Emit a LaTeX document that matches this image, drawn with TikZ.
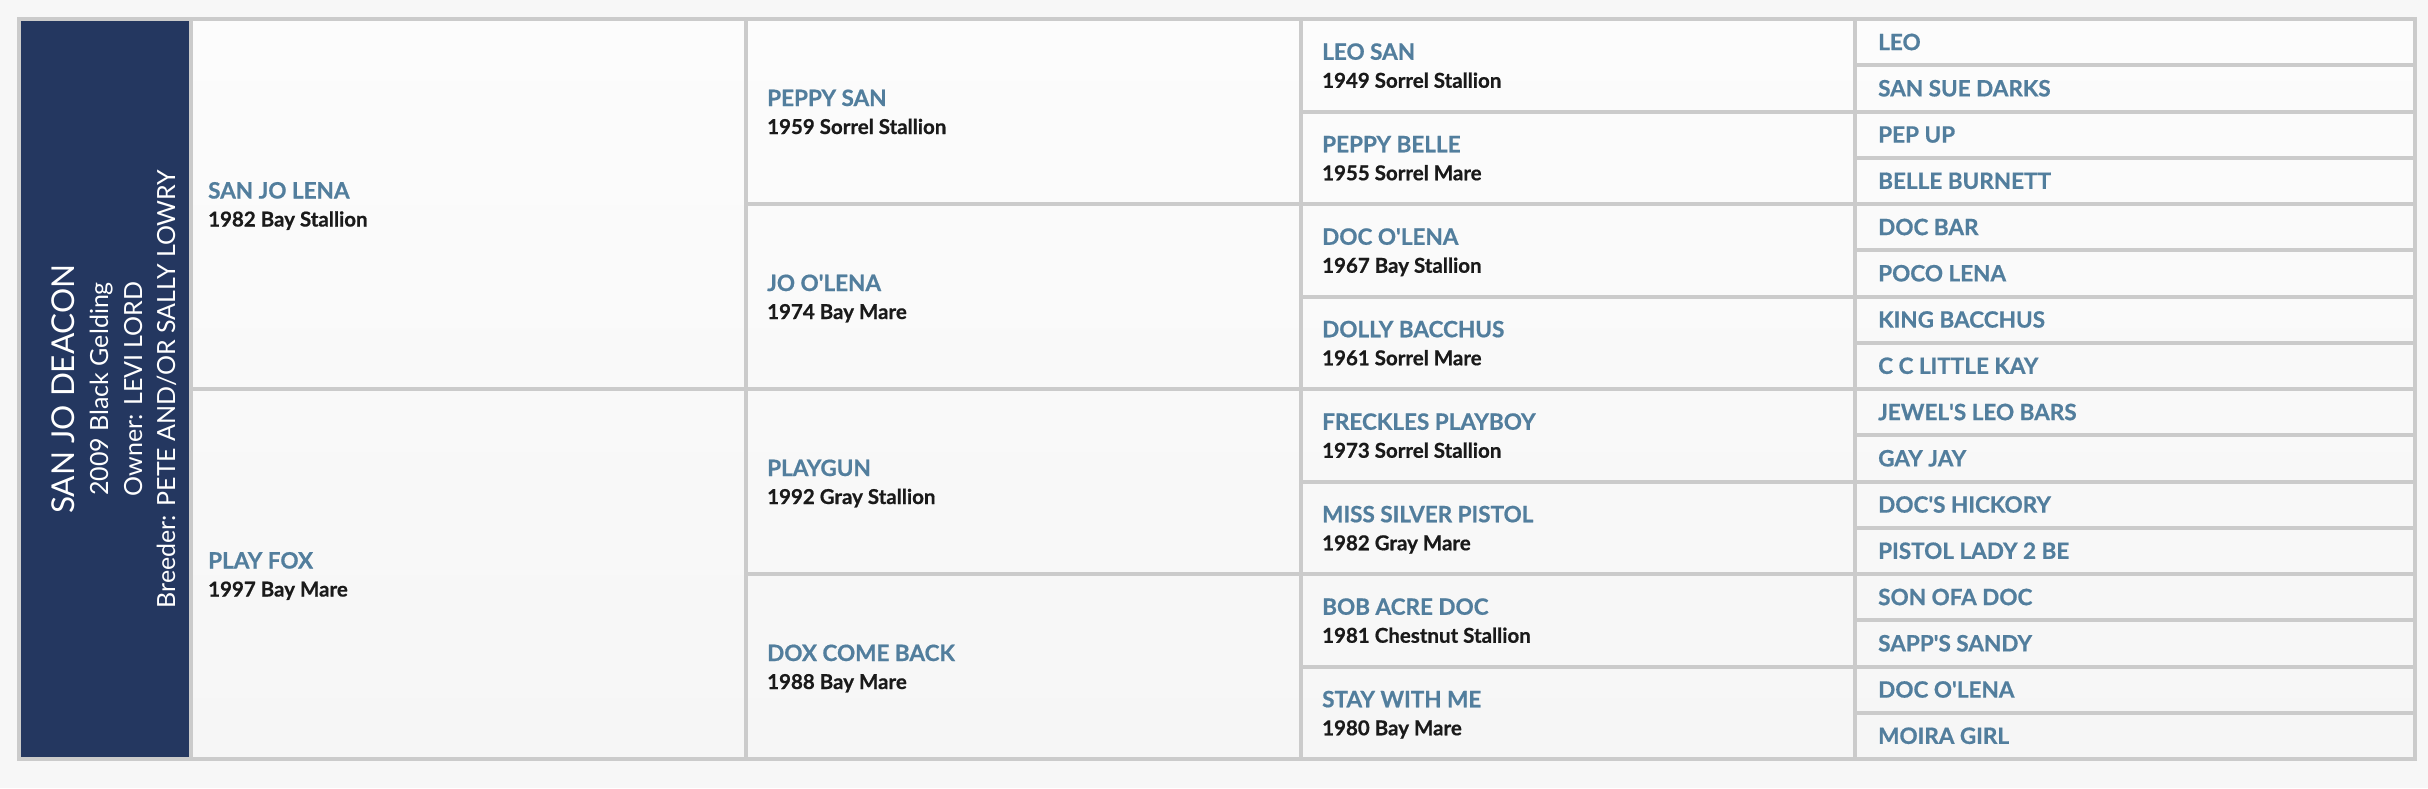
\documentclass[tikz,border=0pt]{standalone}
\usepackage{fontspec}
\setmainfont{Lato}[BoldFeatures={FakeBold=0.7}]
\usetikzlibrary{shadings}
\definecolor{navy}{RGB}{36,55,96}
\definecolor{gridgray}{RGB}{203,203,203}
\definecolor{nameblue}{RGB}{82,126,157}
\definecolor{subink}{RGB}{26,26,26}
\definecolor{pagebg}{RGB}{247,247,247}
\definecolor{celltop}{RGB}{252,252,252}
\definecolor{cellbot}{RGB}{246,246,246}
\newcommand\ap{\textquotesingle}
\newcommand\pair[5]{%
  \node[nm] (#1) at (#2,{19+46.25*#3-5.5}) {#4};
  \node[sb] (#1d) at (#2,{19+46.25*#3+22.5}) {#5};}
\newcommand\single[4]{%
  \node[nm] (#1) at (#2,{19+46.25*#3+8}) {#4};}
\begin{document}
\begin{tikzpicture}[x=1pt,y=-1pt,
  nm/.style={font=\bfseries\fontsize{22.5}{27}\selectfont, text=nameblue, inner sep=0pt, anchor=base west},
  sb/.style={font=\bfseries\fontsize{20.5}{24}\selectfont, text=subink, inner sep=0pt, anchor=base west},
  bigtxt/.style={font=\fontsize{31.5}{36}\selectfont, text=white, inner sep=0pt, anchor=base, rotate=90},
  smalltxt/.style={font=\fontsize{25}{30}\selectfont, text=white, inner sep=0pt, anchor=base, rotate=90},
  gridline/.style={draw=gridgray, line width=4pt}]
\useasboundingbox (0,0) rectangle (2428,788);
\fill[pagebg] (0,0) rectangle (2428,788);
\shade[top color=celltop, bottom color=cellbot] (19,19) rectangle (2415,759);
\fill[navy] (19,19) rectangle (191,759);
% grid
\draw[gridline] (19,19) rectangle (2415,759);
\foreach \x in {191,746,1301,1855} \draw[gridline] (\x,19) -- (\x,759);
\draw[gridline] (191,{19+8*46.25}) -- (746,{19+8*46.25});
\foreach \k in {4,8,12} \draw[gridline] (746,{19+\k*46.25}) -- (1301,{19+\k*46.25});
\foreach \k in {2,4,...,14} \draw[gridline] (1301,{19+\k*46.25}) -- (1855,{19+\k*46.25});
\foreach \k in {1,...,15} \draw[gridline] (1855,{19+\k*46.25}) -- (2415,{19+\k*46.25});
% subject
\node[bigtxt] (horse) at (74,389) {SAN JO DEACON};
\node[smalltxt] (born) at (108,389) {2009 Black Gelding};
\node[smalltxt] (owner) at (142,389) {Owner: LEVI LORD};
\node[smalltxt] (breeder) at (175,389) {Breeder: PETE AND/OR SALLY LOWRY};
% generation 1
\pair{sire}{208}{4}{SAN JO LENA}{1982 Bay Stallion}
\pair{dam}{208}{12}{PLAY FOX}{1997 Bay Mare}
% generation 2
\pair{ss}{767}{2}{PEPPY SAN}{1959 Sorrel Stallion}
\pair{sd}{767}{6}{JO O\ap LENA}{1974 Bay Mare}
\pair{ds}{767}{10}{PLAYGUN}{1992 Gray Stallion}
\pair{dd}{767}{14}{DOX COME BACK}{1988 Bay Mare}
% generation 3
\pair{sss}{1322}{1}{LEO SAN}{1949 Sorrel Stallion}
\pair{ssd}{1322}{3}{PEPPY BELLE}{1955 Sorrel Mare}
\pair{sds}{1322}{5}{DOC O\ap LENA}{1967 Bay Stallion}
\pair{sdd}{1322}{7}{DOLLY BACCHUS}{1961 Sorrel Mare}
\pair{dss}{1322}{9}{FRECKLES PLAYBOY}{1973 Sorrel Stallion}
\pair{dsd}{1322}{11}{MISS SILVER PISTOL}{1982 Gray Mare}
\pair{dds}{1322}{13}{BOB ACRE DOC}{1981 Chestnut Stallion}
\pair{ddd}{1322}{15}{STAY WITH ME}{1980 Bay Mare}
% generation 4
\single{g1}{1878}{0.5}{LEO}
\single{g2}{1878}{1.5}{SAN SUE DARKS}
\single{g3}{1878}{2.5}{PEP UP}
\single{g4}{1878}{3.5}{BELLE BURNETT}
\single{g5}{1878}{4.5}{DOC BAR}
\single{g6}{1878}{5.5}{POCO LENA}
\single{g7}{1878}{6.5}{KING BACCHUS}
\single{g8}{1878}{7.5}{C C LITTLE KAY}
\single{g9}{1878}{8.5}{JEWEL\ap S LEO BARS}
\single{g10}{1878}{9.5}{GAY JAY}
\single{g11}{1878}{10.5}{DOC\ap S HICKORY}
\single{g12}{1878}{11.5}{PISTOL LADY 2 BE}
\single{g13}{1878}{12.5}{SON OFA DOC}
\single{g14}{1878}{13.5}{SAPP\ap S SANDY}
\single{g15}{1878}{14.5}{DOC O\ap LENA}
\single{g16}{1878}{15.5}{MOIRA GIRL}
\end{tikzpicture}
\end{document}
